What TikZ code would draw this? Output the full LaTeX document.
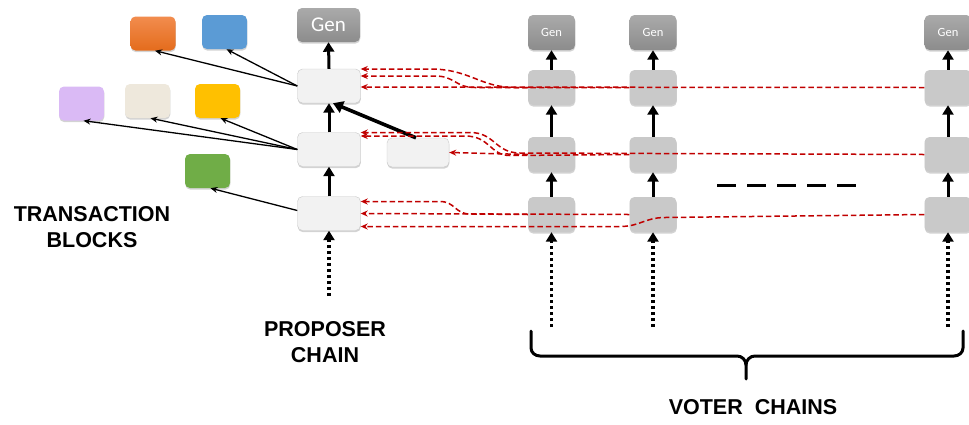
\documentclass[tikz,border=0pt]{standalone}
\usepackage{fontspec}
\setmainfont{Liberation Sans}
\newfontfamily\genfont{Carlito}
\usetikzlibrary{arrows.meta,shadows}
\definecolor{vred}{RGB}{192,0,0}
\definecolor{pfill}{RGB}{242,242,242}
\definecolor{pline}{RGB}{200,200,200}
\definecolor{vfill}{RGB}{201,201,201}
\definecolor{gtop}{RGB}{170,170,170}
\definecolor{gbot}{RGB}{140,140,140}
\definecolor{corangeT}{RGB}{242,140,78}
\definecolor{corangeB}{RGB}{228,108,28}
\definecolor{cblue}{RGB}{91,155,213}
\definecolor{cpurple}{RGB}{218,186,245}
\definecolor{cbeige}{RGB}{238,232,220}
\definecolor{cyellow}{RGB}{255,192,0}
\definecolor{cgreen}{RGB}{112,173,71}
\tikzset{
  boxbase/.style={rectangle, rounded corners=5pt, inner sep=0pt,
    drop shadow={shadow xshift=0.3pt, shadow yshift=-1.6pt, opacity=0.35}},
  pblk/.style={boxbase, fill=pfill, draw=pline, line width=0.4pt, minimum width=63pt, minimum height=34pt},
  sblk/.style={boxbase, fill=pfill, draw=pline, line width=0.4pt, minimum width=62pt, minimum height=29pt},
  vblk/.style={boxbase, fill=vfill, minimum width=47pt, minimum height=35pt},
  pgen/.style={boxbase, top color=gtop, bottom color=gbot, text=white, font=\genfont\fontsize{21}{24}\selectfont, minimum width=63pt, minimum height=34pt},
  vgen/.style={boxbase, top color=gtop, bottom color=gbot, text=white, font=\genfont\fontsize{12.5}{14}\selectfont, minimum width=47pt, minimum height=35pt},
  txb/.style={boxbase, minimum width=45pt, minimum height=34pt},
  chainarr/.style={line width=3pt, -{Triangle[width=11pt,length=9.5pt]}},
  forkarr/.style={line width=3.6pt, -{Triangle[width=12pt,length=10pt]}},
  txarr/.style={line width=1.3pt, -{Stealth[length=7pt,width=6pt]}},
  dotarr/.style={line width=3.2pt, dash pattern=on 3pt off 3pt, -{Triangle[width=11pt,length=9.5pt]}},
  redv/.style={draw=vred, line width=1.5pt, dash pattern=on 5.5pt off 3pt, -{Stealth[length=7pt,width=6pt]}},
  lbl/.style={font=\bfseries\fontsize{21.5}{26}\selectfont, align=center}
}
\begin{document}
\begin{tikzpicture}[x=1pt,y=-1pt]
\useasboundingbox (0,0) rectangle (969,424);

% proposer chain
\node[pgen] (pg) at (328.5,25) {Gen};
\node[pblk] (p1) at (329,86) {};
\node[pblk] (p2) at (329,149.5) {};
\node[pblk] (p3) at (329,213.5) {};
\node[sblk] (ps) at (418,152.5) {};
\coordinate (pstart) at (329,296);

% voter chains
\foreach \c/\x in {1/551.5,2/653,3/948}{
  \node[vgen] (v\c g) at (\x,32.5) {Gen};
  \node[vblk] (v\c 1) at (\x,87.5) {};
  \node[vblk] (v\c 2) at (\x,154.5) {};
  \node[vblk] (v\c 3) at (\x,214.5) {};
}
\coordinate (v1s) at (551.5,327);
\coordinate (v2s) at (653,327);
\coordinate (v3s) at (948,327);

% transaction blocks
\node[txb, top color=corangeT, bottom color=corangeB] (tO) at (153,33.5) {};
\node[txb, fill=cblue] (tB) at (224.5,32) {};
\node[txb, fill=cpurple] (tP) at (81.5,103.5) {};
\node[txb, fill=cbeige] (tE) at (147.5,101) {};
\node[txb, fill=cyellow] (tY) at (217.5,101) {};
\node[txb, fill=cgreen] (tG) at (207.5,171) {};

% chain arrows
\draw[chainarr] (p1.north) -- (pg.south);
\draw[chainarr] (p2.north) -- (p1.south);
\draw[chainarr] (p3.north) -- (p2.south);
\draw[forkarr] ([xshift=-2pt]ps.north) -- ([xshift=4pt]p1.south);
\draw[dotarr] (pstart) -- (p3.south);
\foreach \c in {1,2,3}{
  \draw[chainarr] (v\c 1.north) -- (v\c g.south);
  \draw[chainarr] (v\c 2.north) -- (v\c 1.south);
  \draw[chainarr] (v\c 3.north) -- (v\c 2.south);
  \draw[dotarr] (v\c s) -- (v\c 3.south);
}

% transaction arrows
\draw[txarr] (p1.west) -- ([xshift=2pt]tO.south);
\draw[txarr] (p1.west) -- ([xshift=2pt]tB.south);
\draw[txarr] (p2.west) -- ([xshift=2pt]tP.south);
\draw[txarr] (p2.west) -- ([xshift=3pt]tE.south);
\draw[txarr] (p2.west) -- ([xshift=3pt]tY.south);
\draw[txarr] ([yshift=3pt]p3.west) -- ([xshift=3pt]tG.south);

% votes, top row
\draw[redv] (v31.west) -- ([yshift=-1pt]p1.east);
\draw[redv] (v21.west) -- (475,87.5) .. controls (455,87.5) and (455,76) .. (435,76) -- ([yshift=10pt]p1.east);
\draw[redv] (v11.west) -- (515,87.5) .. controls (480,87.5) and (470,69) .. (430,69) -- ([yshift=17pt]p1.east);
% votes, middle row
\draw[redv] (v32.west) -- (520,153) .. controls (495,153) and (495,132.5) .. (470,132.5) -- ([yshift=17pt]p2.east);
\draw[redv] (v22.west) -- (510,155.5) .. controls (490,155.5) and (490,136) .. (465,136) -- ([yshift=13.5pt]p2.east);
\draw[redv] (v12.west) -- (ps.east);
% votes, bottom row
\draw[redv] (v13.west) -- (470,214) .. controls (455,214) and (455,201.5) .. (440,201.5) -- ([yshift=12pt]p3.east);
\draw[redv] (v23.west) -- (p3.east);
\draw[redv] (v33.west) -- (665,217.5) .. controls (645,217.5) and (640,226.5) .. (620,226.5) -- ([yshift=-13pt]p3.east);

% ellipsis dashes
\draw[line width=3pt, dash pattern=on 19pt off 11pt] (717,185) -- (856,185);

% brace
\draw[line width=3pt, line cap=round] (531,331) -- (531,348) to[out=-90,in=180] (540,356) -- (737,356) to[out=0,in=90] (746,365) -- (746,379);
\draw[line width=3pt, line cap=round] (963,331) -- (963,348) to[out=-90,in=0] (954,356) -- (755,356) to[out=180,in=90] (746,365);

% labels
\node[lbl] (ltx) at (92,227) {TRANSACTION\\BLOCKS};
\node[lbl] (lpc) at (325,342.5) {PROPOSER\\CHAIN};
\node[lbl] (lvc) at (753,407) {VOTER\ \ CHAINS};
\end{tikzpicture}
\end{document}
